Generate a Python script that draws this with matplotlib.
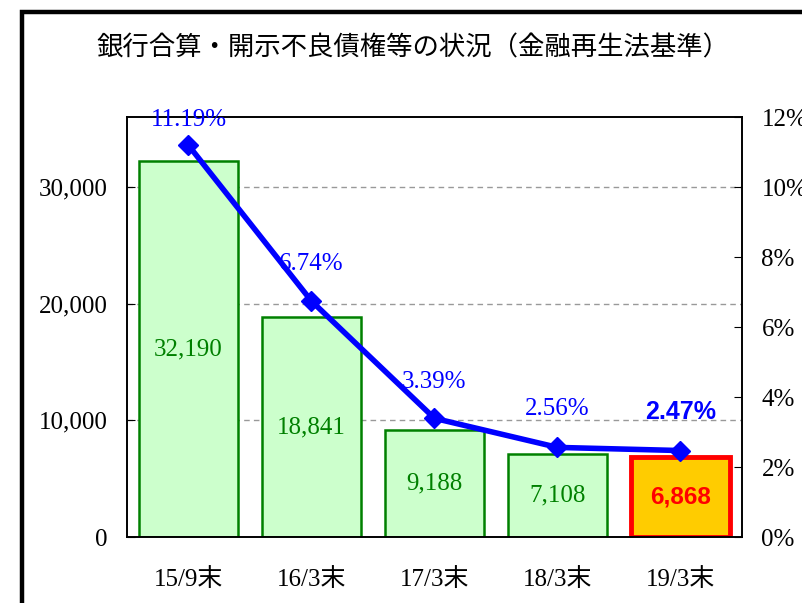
import matplotlib
matplotlib.use("Agg")
import matplotlib.pyplot as plt
from matplotlib.patches import Rectangle
from matplotlib.ticker import FuncFormatter

categories = ["15/9末", "16/3末", "17/3末", "18/3末", "19/3末"]
amounts = [32190, 18841, 9188, 7108, 6868]
ratios = [11.19, 6.74, 3.39, 2.56, 2.47]
title = "銀行合算・開示不良債権等の状況（金融再生法基準）"

SERIF = ["Liberation Serif", "Noto Sans CJK JP"]
SANS = ["Liberation Sans", "Noto Sans CJK JP"]

fig = plt.figure(figsize=(8.03, 6.03), dpi=100)
fig.patch.set_facecolor("white")

# outer frame (cropped)
fig.patches.append(Rectangle((22/803, -0.2), 2.0, 0.2 + (603-12)/603,
                             transform=fig.transFigure, fill=False,
                             edgecolor="black", linewidth=3.2, zorder=0))

ax = fig.add_axes([127/803, (603-537)/603, (742-127)/803, (537-117)/603])
x = list(range(len(categories)))

face = ["#CCFFCC"] * 4 + ["#FFCC00"]
edge = ["#008000"] * 4 + ["#FF0000"]
lws = [1.8] * 4 + [3.5]
ax.bar(x, amounts, width=0.8, color=face, edgecolor=edge, linewidth=lws, zorder=2)

ax.set_xlim(-0.5, 4.5)
ax.set_ylim(0, 36000)
ax.set_yticks([0, 10000, 20000, 30000])
ax.yaxis.set_major_formatter(FuncFormatter(lambda v, p: f"{int(v):,}"))
for yv in [10000, 20000, 30000]:
    ax.axhline(yv, color="#999999", linestyle=(0, (4, 3)), linewidth=1.0, zorder=1)

ax.set_xticks(x)
ax.set_xticklabels(categories)
ax.tick_params(axis="x", length=0, pad=22)
ax.tick_params(axis="y", direction="in", length=6, pad=14)
for lab in ax.get_xticklabels() + ax.get_yticklabels():
    lab.set_family(SERIF)
    lab.set_fontsize(18)

for i, v in enumerate(amounts):
    if i < 4:
        ax.text(i, v / 2, f"{v:,}", ha="center", va="center", color="#008000",
                fontsize=18, family=SERIF, zorder=5)
    else:
        ax.text(i, v / 2, f"{v:,}", ha="center", va="center", color="#FF0000",
                fontsize=17.5, family=SANS, fontweight="bold", zorder=5)

ax2 = ax.twinx()
ax2.set_ylim(0, 12)
ax2.set_yticks([0, 2, 4, 6, 8, 10, 12])
ax2.yaxis.set_major_formatter(FuncFormatter(lambda v, p: f"{int(v)}%"))
ax2.tick_params(axis="y", direction="in", length=6, pad=14)
for lab in ax2.get_yticklabels():
    lab.set_family(SERIF)
    lab.set_fontsize(18)
ax2.plot(x, ratios, color="#0000FF", linewidth=4, marker="D", markersize=10.5,
         zorder=4)

offsets = [18, 27, 26, 28, 28]
for i, r in enumerate(ratios):
    if i < 4:
        ax2.annotate(f"{r:.2f}%", (i, r), xytext=(0, offsets[i]), textcoords="offset points",
                     ha="center", va="center", color="#0000FF", fontsize=18, family=SERIF)
    else:
        ax2.annotate(f"{r:.2f}%", (i, r), xytext=(0, offsets[i]), textcoords="offset points",
                     ha="center", va="center", color="#0000FF", fontsize=18, family=SANS,
                     fontweight="bold")

for a in (ax, ax2):
    for s in a.spines.values():
        s.set_linewidth(1.2)

fig.text(413/803, 1 - 48/603, title, ha="center", va="center", fontsize=19,
         family=["Noto Sans CJK JP", "DejaVu Sans"])

fig.savefig("out.png", dpi=100)
